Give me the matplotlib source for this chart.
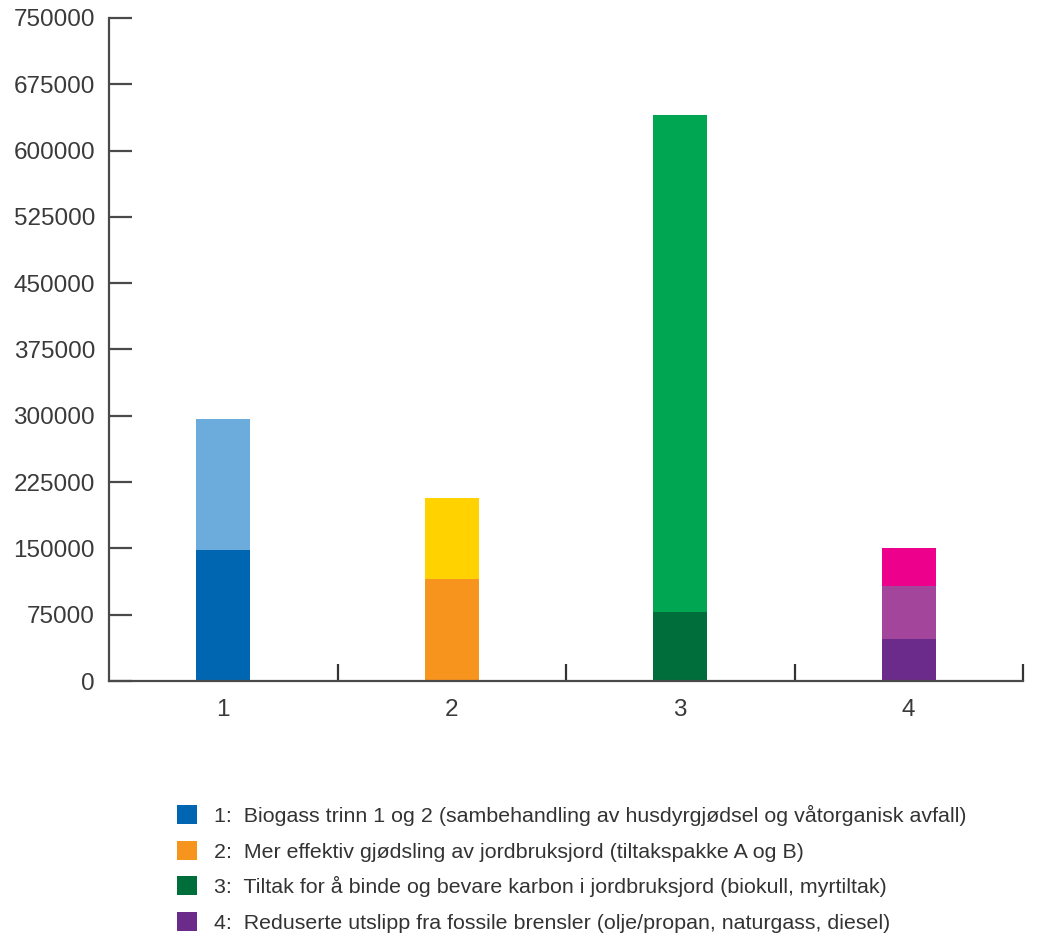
import numpy as np
import matplotlib.pyplot as plt
from matplotlib.patches import Patch
from matplotlib import font_manager

# stacked segments, bottom to top
tiltak = ['1', '2', '3', '4']
seg_1 = [148000, 148000]
seg_2 = [115000, 92000]
seg_3 = [78500, 561500]
seg_4 = [47000, 60500, 43500]

farger_1 = ['#0066b2', '#6cacdd']
farger_2 = ['#f7941d', '#ffd200']
farger_3 = ['#006e3b', '#00a651']
farger_4 = ['#6b2b8b', '#a3459a', '#ec008c']

legend_tekst = [
    '1:  Biogass trinn 1 og 2 (sambehandling av husdyrgjødsel og våtorganisk avfall)',
    '2:  Mer effektiv gjødsling av jordbruksjord (tiltakspakke A og B)',
    '3:  Tiltak for å binde og bevare karbon i jordbruksjord (biokull, myrtiltak)',
    '4:  Reduserte utslipp fra fossile brensler (olje/propan, naturgass, diesel)',
]
legend_farger = ['#0066b2', '#f7941d', '#006e3b', '#6b2b8b']

navn = [f.name for f in font_manager.fontManager.ttflist]
smal = 'Liberation Sans Narrow' if 'Liberation Sans Narrow' in navn else 'Liberation Sans'
plt.rcParams['font.family'] = ['Liberation Sans', 'DejaVu Sans']

fig = plt.figure(figsize=(10.61, 9.36), dpi=100)
ax = fig.add_axes([109/1061, 1 - 681/936, (1023 - 109)/1061, (681 - 18)/936])

segmenter = [seg_1, seg_2, seg_3, seg_4]
farger = [farger_1, farger_2, farger_3, farger_4]
x = np.arange(1, len(tiltak) + 1)
for i, (verdier, cols) in enumerate(zip(segmenter, farger)):
    bunn = 0
    for v, c in zip(verdier, cols):
        ax.bar(x[i], v, bottom=bunn, width=0.236, color=c, linewidth=0)
        bunn += v

ax.set_xlim(0.5, 4.5)
ax.set_ylim(0, 750000)
ax.set_yticks(np.arange(0, 750001, 75000))
ax.set_yticklabels([str(int(t)) for t in np.arange(0, 750001, 75000)])
ax.set_xticks(x)
ax.set_xticklabels(tiltak)
ax.set_xticks([1.5, 2.5, 3.5, 4.5], minor=True)

for s in ['top', 'right']:
    ax.spines[s].set_visible(False)
for s in ['left', 'bottom']:
    ax.spines[s].set_color('#4a4a4a')
    ax.spines[s].set_linewidth(1.6)

ax.tick_params(axis='y', direction='in', length=16.5, width=1.6, color='#4a4a4a',
               pad=10, labelsize=17.5, labelcolor='#3a3a3a')
ax.tick_params(axis='x', which='major', length=0, pad=13, labelsize=17.5, labelcolor='#3a3a3a')
ax.tick_params(axis='x', which='minor', direction='in', length=12, width=1.6, color='#333333')

handles = [Patch(facecolor=c, edgecolor='none') for c in legend_farger]
fig.legend(handles, legend_tekst, loc='upper left',
           bbox_to_anchor=(177/1061, 1 - 805/936), frameon=False,
           prop={'family': smal, 'size': 15.4}, labelcolor='#333333',
           handlelength=0.95, handleheight=1.0, handletextpad=0.8,
           labelspacing=0.68, borderpad=0, borderaxespad=0)

fig.savefig('out.png', dpi=100)
